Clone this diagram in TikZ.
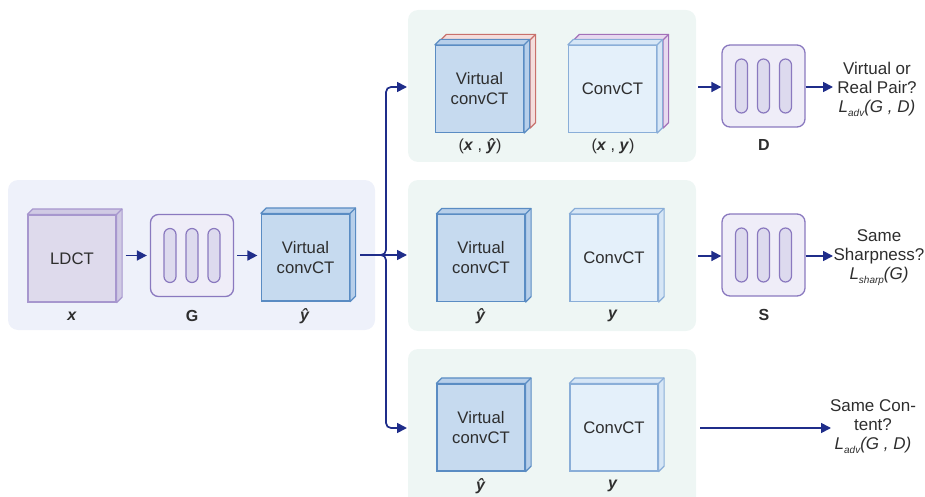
\documentclass[tikz,border=0pt]{standalone}
\usepackage{fontspec}
\setmainfont{Liberation Sans}
\usetikzlibrary{arrows.meta}

\definecolor{navy}{HTML}{1F2D8A}
\definecolor{txt}{HTML}{2E2E2E}
\definecolor{panelL}{HTML}{EEF1FA}
\definecolor{panelR}{HTML}{EEF6F4}
\definecolor{vfill}{HTML}{C6DAEF}
\definecolor{vside}{HTML}{B7CFEA}
\definecolor{vdraw}{HTML}{5A8CC3}
\definecolor{cfill}{HTML}{E4F0FA}
\definecolor{cside}{HTML}{D6E6F6}
\definecolor{cdraw}{HTML}{8AAED8}
\definecolor{lfill}{HTML}{DEDAEC}
\definecolor{lside}{HTML}{D0CAE4}
\definecolor{ldraw}{HTML}{A797CE}
\definecolor{rfill}{HTML}{F4DDDC}
\definecolor{rdraw}{HTML}{C8716C}
\definecolor{pfill}{HTML}{E7D9EF}
\definecolor{pdraw}{HTML}{A271B9}
\definecolor{netfill}{HTML}{EFEDF8}
\definecolor{netdraw}{HTML}{8A79BF}
\definecolor{pillfill}{HTML}{DDDAEE}

\newcommand\ctfont{\fontsize{16.7}{20}\selectfont}
\newcommand\outfont{\fontsize{17}{19}\selectfont}
\newcommand\labfont{\fontsize{16}{20}\selectfont}
\newcommand\lsub[1]{\raisebox{-0.45ex}{\fontsize{10}{10}\selectfont\itshape #1}}
\newcommand\bx{\textbf{\textit{x}}}
\newcommand\by{\textbf{\textit{y}}}
\newcommand\byhat{\textbf{\textit{\^y}}}
\newcommand\slabdepth{5.5}

% one CT slab: front face as a named node plus top and right faces
% #1 name, #2 centre, #3 front fill, #4 side fill, #5 border, #6 text
\newcommand{\ctslab}[6]{%
  \node[slabface, fill=#3, draw=#5] (#1) at (#2) {#6};
  \draw[#5, fill=#4, line width=1.2pt, line join=round]
    (#1.north west) -- ++(\slabdepth,-\slabdepth)
    -- ([shift={(\slabdepth,-\slabdepth)}]#1.north east)
    -- ([shift={(\slabdepth,-\slabdepth)}]#1.south east)
    -- (#1.south east) -- (#1.north east) -- cycle;
  \draw[#5, line width=1.2pt] (#1.north east) -- ++(\slabdepth,-\slabdepth);
}

% network block with three pill-shaped layers
\newcommand{\netblock}[2]{%
  \node[netbox] (#1) at (#2) {};
  \node[pill] (#1a) at ([xshift=-22pt]#1.center) {};
  \node[pill] (#1b) at (#1.center) {};
  \node[pill] (#1c) at ([xshift=22pt]#1.center) {};
}

\tikzset{
  panelbox/.style={fill=#1, draw=none, rounded corners=10pt},
  slabface/.style={minimum width=88pt, minimum height=87pt, inner sep=0pt,
    line width=1.2pt, align=center, font=\ctfont, text=txt},
  netbox/.style={draw=netdraw, fill=netfill, line width=1.3pt, rounded corners=8pt,
    minimum width=83pt, minimum height=82pt, inner sep=0pt},
  pill/.style={draw=netdraw, fill=pillfill, line width=1.2pt, rounded corners=6pt,
    minimum width=12pt, minimum height=54pt, inner sep=0pt},
  arr/.style={draw=navy, line width=1.7pt, -{Triangle[length=10pt,width=10pt]}},
  lab/.style={font=\labfont, text=txt, inner sep=0pt},
  outtext/.style={font=\outfont, text=txt, align=center, inner sep=0pt},
}

\begin{document}
\begin{tikzpicture}[x=1pt,y=-1pt]
\useasboundingbox (0,0) rectangle (925,497);

% background panels
\fill[panelbox=panelL] (8,180) rectangle (375,330);
\fill[panelbox=panelR] (408,10) rectangle (696,162);
\fill[panelbox=panelR] (408,180) rectangle (696,331);
\fill[panelbox=panelR] (408,349) rectangle (696,520);

% generator stage
\ctslab{ldct}{72,258.5}{lfill}{lside}{ldraw}{LDCT}
\netblock{gen}{192,255.5}
\ctslab{vleft}{305.5,257.5}{vfill}{vside}{vdraw}{Virtual\\convCT}
\node[lab] (lx) at (72,316) {\bx};
\node[lab] (lg) at (192,316) {\textbf{G}};
\node[lab] (lyh) at (305,316) {\byhat};

% adversarial pair
\ctslab{vtopr}{485.5,84}{rfill}{rfill}{rdraw}{}
\ctslab{vtop}{479.5,89}{vfill}{vside}{vdraw}{Virtual\\convCT}
\ctslab{ctopp}{618.5,84}{pfill}{pfill}{pdraw}{}
\ctslab{ctop}{612.5,89}{cfill}{cside}{cdraw}{ConvCT}
\node[lab] (ltop1) at (480,146) {(\bx\ , \byhat)};
\node[lab] (ltop2) at (613,146) {(\bx\ , \by)};
\netblock{disc}{763.5,86}
\node[lab] (ld) at (764,145) {\textbf{D}};
\node[outtext] (otop) at (877,89) {Virtual or\\Real Pair?\\\textit{L\lsub{adv}(G , D)}};

% sharpness pair
\ctslab{vmid}{481,258}{vfill}{vside}{vdraw}{Virtual\\convCT}
\ctslab{cmid}{614,258}{cfill}{cside}{cdraw}{ConvCT}
\node[lab] (lmid1) at (481,316) {\byhat};
\node[lab] (lmid2) at (613,316) {\by};
\netblock{sharp}{763.5,255}
\node[lab] (ls) at (764,315) {\textbf{S}};
\node[outtext] (omid) at (879,258) {Same\\Sharpness?\\\textit{L\lsub{sharp}(G)}};

% content pair
\ctslab{vbot}{481,427.5}{vfill}{vside}{vdraw}{Virtual\\convCT}
\ctslab{cbot}{614,427.5}{cfill}{cside}{cdraw}{ConvCT}
\node[lab] (lbot1) at (481,486) {\byhat};
\node[lab] (lbot2) at (613,486) {\by};
\node[outtext] (obot) at (873,427) {Same Con-\\tent?\\\textit{L\lsub{adv}(G , D)}};

% connectors
\draw[arr] ([xshift=9pt]ldct.east |- gen.west) -- ([xshift=-3pt]gen.west);
\draw[arr] ([xshift=3pt]gen.east) -- ([xshift=-3.5pt]vleft.west |- gen.east);

\coordinate (split) at (386,255);
\coordinate (toTop) at (407,87);
\coordinate (toMid) at (407,255);
\coordinate (toBot) at (407,428);
\draw[arr, rounded corners=5pt] ([xshift=10pt]vleft.east |- split) -- (split) -- (split |- toTop) -- (toTop);
\draw[arr, rounded corners=5pt] ([xshift=10pt]vleft.east |- split) -- (split) -- (split |- toBot) -- (toBot);
\draw[arr] ([xshift=10pt]vleft.east |- split) -- (toMid);

\coordinate (dIn) at (698,87);
\coordinate (dOut) at (833,87);
\draw[arr] (dIn) -- (disc.west |- dIn);
\draw[arr] (disc.east |- dIn) -- (dOut);

\coordinate (sIn) at (698,256);
\coordinate (sOut) at (833,256);
\draw[arr] (sIn) -- (sharp.west |- sIn);
\draw[arr] (sharp.east |- sIn) -- (sOut);

\coordinate (cIn) at (700,428);
\coordinate (cOut) at (831,428);
\draw[arr] (cIn) -- (cOut);
\end{tikzpicture}
\end{document}
